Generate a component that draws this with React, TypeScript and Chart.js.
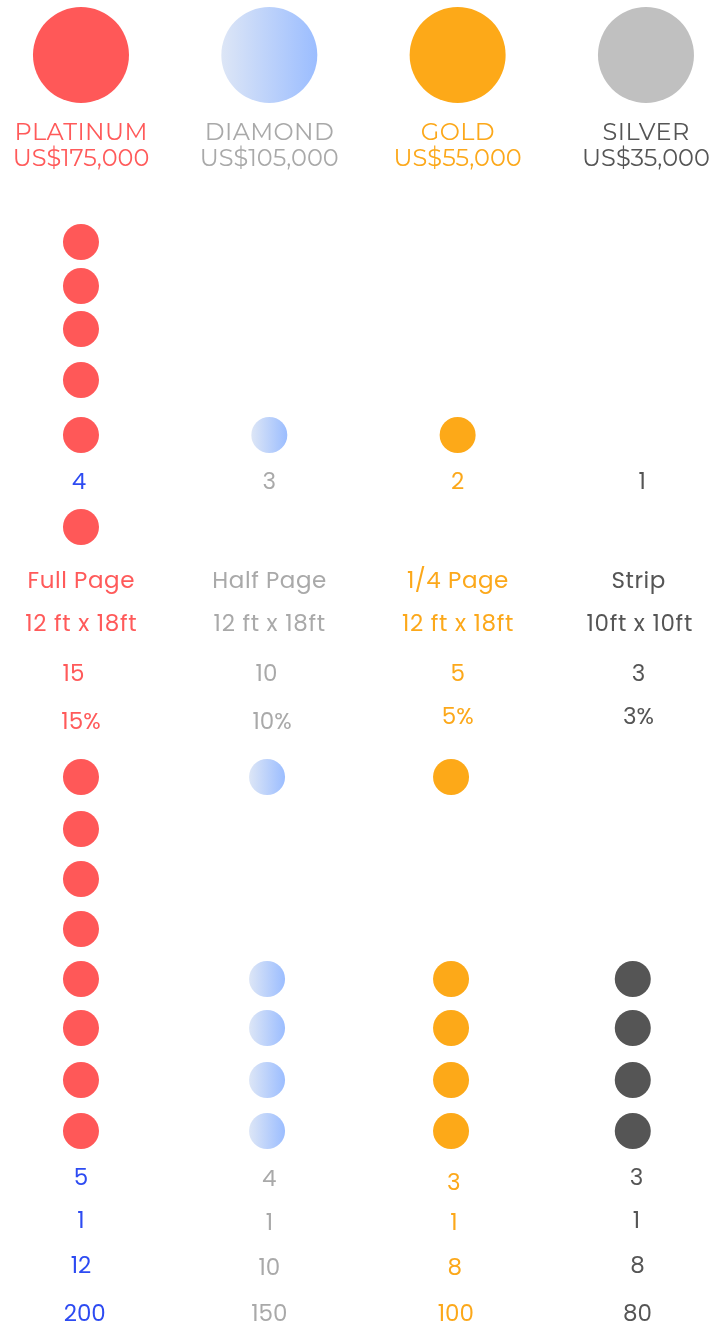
import React, { useEffect, useRef } from "react";
import { Chart, registerables } from "chart.js";

Chart.register(...registerables);

// ---------- data ----------
const TIERS = ["PLATINUM", "DIAMOND", "GOLD", "SILVER"];
const PRICES = ["US$175,000", "US$105,000", "US$55,000", "US$35,000"];
const TOP_COUNT = ["4", "3", "2", "1"];
const AD_TYPE = ["Full Page", "Half Page", "1/4 Page", "Strip"];
const AD_SIZE = ["12 ft x 18ft", "12 ft x 18ft", "12 ft x 18ft", "10ft x 10ft"];
const ITEMS = ["15", "10", "5", "3"];
const DISCOUNT = ["15%", "10%", "5%", "3%"];
const ROW_A = ["5", "4", "3", "3"];
const ROW_B = ["1", "1", "1", "1"];
const ROW_C = ["12", "10", "8", "8"];
const ROW_D = ["200", "150", "100", "80"];
// benefit included (1) or not (0) per tier, per benefit row
const UPPER_BENEFITS = [
  [1, 1, 1, 1, 1, 1],
  [0, 0, 0, 0, 1, 0],
  [0, 0, 0, 0, 1, 0],
  [0, 0, 0, 0, 0, 0],
];
const LOWER_BENEFITS = [
  [1, 1, 1, 1, 1, 1, 1, 1],
  [1, 0, 0, 0, 1, 1, 1, 1],
  [1, 0, 0, 0, 1, 1, 1, 1],
  [0, 0, 0, 0, 1, 1, 1, 1],
];

// ---------- layout / style ----------
const W = 726;
const H = 1324;
const ROW_HEADER = 55;
const ROW_NAME = 133;
const ROW_PRICE = 159;
const UPPER_ROWS = [242, 286, 329, 380, 435, 527];
const ROW_TOPCOUNT = 483;
const ROW_ADTYPE = 582;
const ROW_ADSIZE = 625;
const ROW_ITEMS = 675;
const ROW_DISCOUNT = 721;
const LOWER_ROWS = [777, 829, 879, 929, 979, 1028, 1080, 1131];
const NUM_ROWS = [1179, 1222, 1267, 1315];
const LOWER_SHIFT = [0, -0.012, -0.035, -0.07];

const TIER_TEXT = ["#FF5A5A", "#A9A9A9", "#FCA81A", "#555555"];
const TIER_DOT_UPPER = ["#FF5858", "grad", "#FDA918", "#C0C0C0"];
const TIER_DOT_LOWER = ["#FF5858", "grad", "#FDA918", "#555555"];
const HEADER_DOT = ["#FF5858", "grad", "#FDA918", "#C0C0C0"];
const BLUE = "#2D4BF2";
const X_MIN = -0.43;
const X_MAX = 3.425;

const HEAD_FONT = "Montserrat, 'DejaVu Sans', sans-serif";
const BODY_FONT = "Poppins, 'DejaVu Sans', sans-serif";

export default function App() {
  const ref = useRef<HTMLCanvasElement | null>(null);

  useEffect(() => {
    if (!ref.current) return;

    const headerPts = TIERS.map((_, i) => ({ x: i, y: ROW_HEADER, t: i, c: HEADER_DOT[i] }));
    const upperPts: any[] = [];
    UPPER_BENEFITS.forEach((rows, t) =>
      rows.forEach((v, r) => {
        if (v) upperPts.push({ x: t, y: UPPER_ROWS[r], t, c: TIER_DOT_UPPER[t] });
      })
    );
    const lowerPts: any[] = [];
    LOWER_BENEFITS.forEach((rows, t) =>
      rows.forEach((v, r) => {
        if (v) lowerPts.push({ x: t + LOWER_SHIFT[t], y: LOWER_ROWS[r], t, c: TIER_DOT_LOWER[t] });
      })
    );

    const color = (radius: number) => (ctx: any) => {
      const raw = ctx.raw;
      if (!raw) return "#BCD0F5";
      if (raw.c !== "grad") return raw.c;
      const chart = ctx.chart;
      const xs = chart.scales && chart.scales.x;
      let px = xs ? xs.getPixelForValue(raw.x) : NaN;
      if (!isFinite(px)) {
        const w = chart.width || W;
        px = ((raw.x - X_MIN) / (X_MAX - X_MIN)) * w;
      }
      if (!isFinite(px)) return "#BCD0F5";
      const g = chart.ctx.createLinearGradient(px - radius, 0, px + radius, 0);
      g.addColorStop(0, "#DDE6F6");
      g.addColorStop(1, "#9BBDFF");
      return g;
    };

    const textPlugin = {
      id: "tableText",
      afterDatasetsDraw(chart: any) {
        const c = chart.ctx;
        const xs = chart.scales.x;
        const ys = chart.scales.y;
        c.save();
        c.textAlign = "center";
        c.textBaseline = "middle";
        const draw = (
          arr: string[],
          row: number,
          font: string,
          colors: string[],
          spacing = 0,
          shift: number[] = [0, 0, 0, 0],
          yShift: number[] = [0, 0, 0, 0]
        ) => {
          c.font = font;
          (c as any).letterSpacing = spacing + "px";
          arr.forEach((s, i) => {
            c.fillStyle = colors[i];
            c.fillText(
              s,
              xs.getPixelForValue(i + shift[i]) + spacing / 2,
              ys.getPixelForValue(row + yShift[i])
            );
          });
        };
        const blueFirst = [BLUE, TIER_TEXT[1], TIER_TEXT[2], TIER_TEXT[3]];
        draw(TIERS, ROW_NAME, `24px ${HEAD_FONT}`, TIER_TEXT, 0.4);
        draw(PRICES, ROW_PRICE, `24px ${HEAD_FONT}`, TIER_TEXT, 0);
        draw(TOP_COUNT, ROW_TOPCOUNT, `23px ${BODY_FONT}`, blueFirst, 0, [-0.01, 0, 0, -0.02]);
        draw(AD_TYPE, ROW_ADTYPE, `23px ${BODY_FONT}`, TIER_TEXT, 0.55, [0, 0, 0, -0.04]);
        draw(AD_SIZE, ROW_ADSIZE, `23px ${BODY_FONT}`, TIER_TEXT, 0.7, [0, 0, 0, -0.035]);
        draw(ITEMS, ROW_ITEMS, `23px ${BODY_FONT}`, TIER_TEXT, 0, [-0.04, -0.015, 0, -0.04]);
        draw(DISCOUNT, ROW_DISCOUNT, `23px ${BODY_FONT}`, TIER_TEXT, 0, [0, 0.015, 0, -0.04], [2, 2, -3, -3]);
        draw(ROW_A, NUM_ROWS[0], `23px ${BODY_FONT}`, blueFirst, 0, [0, 0, -0.02, -0.05], [0, 1, 5, 0]);
        draw(ROW_B, NUM_ROWS[1], `23px ${BODY_FONT}`, blueFirst, 0, [0, 0, -0.02, -0.05], [0, 2, 2, 0]);
        draw(ROW_C, NUM_ROWS[2], `23px ${BODY_FONT}`, blueFirst, 0, [0, 0, -0.015, -0.045], [0, 2, 2, 0]);
        draw(ROW_D, NUM_ROWS[3], `23px ${BODY_FONT}`, blueFirst, 0, [0.02, 0, -0.01, -0.045]);
        c.restore();
      },
    };

    const chart = new Chart(ref.current, {
      type: "scatter",
      data: {
        datasets: [
          {
            data: headerPts,
            pointRadius: 48,
            pointHoverRadius: 48,
            pointBorderWidth: 0,
            backgroundColor: color(48),
            borderColor: "rgba(0,0,0,0)",
            clip: false,
          },
          {
            data: upperPts,
            pointRadius: 18,
            pointHoverRadius: 18,
            pointBorderWidth: 0,
            backgroundColor: color(18),
            borderColor: "rgba(0,0,0,0)",
            clip: false,
          },
          {
            data: lowerPts,
            pointRadius: 18,
            pointHoverRadius: 18,
            pointBorderWidth: 0,
            backgroundColor: color(18),
            borderColor: "rgba(0,0,0,0)",
            clip: false,
          },
        ] as any,
      },
      options: {
        animation: false,
        responsive: true,
        maintainAspectRatio: false,
        events: [],
        layout: { padding: 0, autoPadding: false },
        plugins: { legend: { display: false }, tooltip: { enabled: false } },
        scales: {
          x: { type: "linear", display: false, min: X_MIN, max: X_MAX },
          y: { type: "linear", display: false, min: 0, max: H, reverse: true },
        },
      },
      plugins: [textPlugin],
    });
    return () => chart.destroy();
  }, []);

  return (
    <div style={{ position: "fixed", left: 0, top: 0, width: W, height: H, background: "#fff" }}>
      <canvas ref={ref} />
    </div>
  );
}
